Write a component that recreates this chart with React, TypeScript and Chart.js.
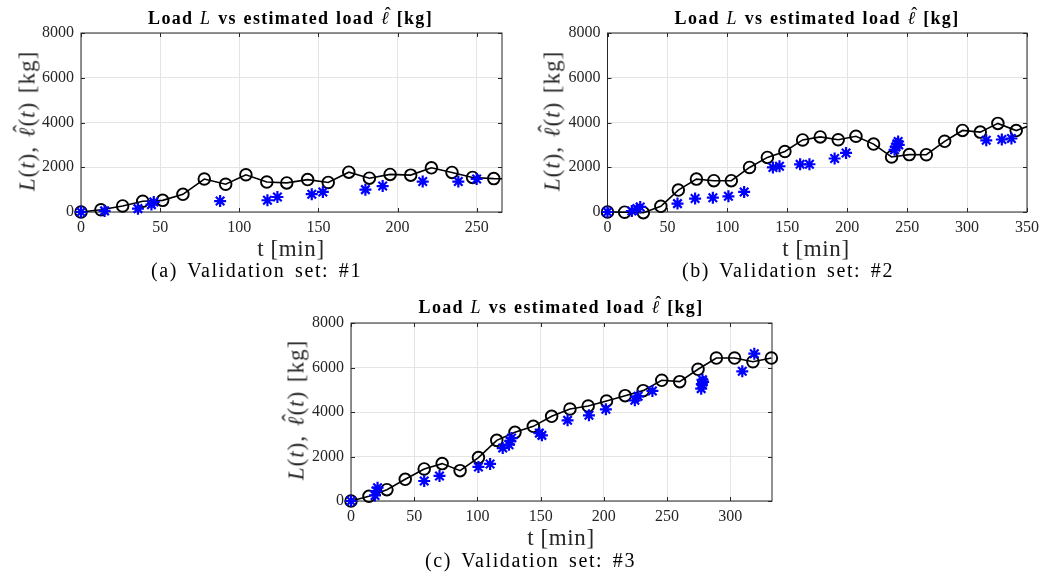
import React, { useEffect, useRef } from "react";
import { Chart, registerables } from "chart.js";

Chart.register(...registerables);

// ---------- Data ----------
const yTicks = [0, 2000, 4000, 6000, 8000];
const xTicksA = [0, 50, 100, 150, 200, 250];
const xTicksB = [0, 50, 100, 150, 200, 250, 300, 350];
const xTicksC = [0, 50, 100, 150, 200, 250, 300];

// (a) Validation set #1
const tLoadA = [0, 12.6, 26.3, 39, 51.6, 64.4, 77.9, 91.4, 104.2, 117.4, 130, 143.2, 156.2, 169.2, 182.2, 195.3, 208.3, 221.4, 234.4, 247.4, 260.8, 274];
const loadA = [0, 100, 270, 480, 520, 790, 1475, 1240, 1665, 1340, 1300, 1448, 1320, 1780, 1512, 1680, 1648, 1975, 1768, 1545, 1492, 1480];
const tEstA = [0, 14.9, 36, 44.5, 46, 87.9, 117.8, 124.1, 145.8, 152.8, 179.7, 190.6, 215.9, 238.4, 250];
const estA = [0, 50, 150, 330, 450, 490, 525, 670, 795, 895, 1000, 1160, 1360, 1360, 1475];

// (b) Validation set #2
const tLoadB = [0, 14.3, 29.9, 44.5, 59.1, 74.2, 88.7, 103.3, 118.5, 133.4, 148, 162.8, 177.5, 192.5, 207.3, 222, 237, 251.8, 266, 281.3, 296.2, 311, 325.7, 341, 356];
const loadB = [0, -10, -30, 255, 980, 1470, 1400, 1400, 1990, 2440, 2705, 3220, 3355, 3230, 3385, 3035, 2460, 2565, 2560, 3160, 3645, 3570, 3960, 3640, 3930];
const tEstB = [0, 20.3, 24.5, 27.3, 58.4, 73.1, 87.9, 100.9, 114, 138, 143.5, 160.7, 168.5, 189.5, 199, 239.5, 240.5, 241.5, 242.5, 243, 316, 329, 337];
const estB = [0, 45, 150, 225, 375, 600, 640, 700, 895, 1990, 2045, 2130, 2135, 2390, 2640, 2780, 2900, 3050, 3150, 3000, 3205, 3240, 3285];

// (c) Validation set #3
const tLoadC = [0, 14.2, 28.4, 42.9, 57.9, 72.1, 86.3, 100.8, 115.3, 129.7, 144.2, 158.7, 173.2, 187.6, 202.1, 216.8, 231.1, 245.8, 260, 274.5, 289, 303.4, 317.9, 332.5];
const loadC = [0, 210, 510, 975, 1440, 1680, 1365, 1950, 2725, 3085, 3355, 3805, 4135, 4270, 4495, 4735, 4960, 5425, 5365, 5920, 6425, 6425, 6260, 6425];
const tEstC = [0, 19, 20, 21, 57.9, 70, 100.8, 110, 120, 125, 126, 127, 149, 151, 171.3, 188.2, 201.6, 224.5, 227.1, 238.4, 277, 277.5, 278, 278.5, 309.5, 319];
const estC = [0, 250, 450, 600, 900, 1125, 1530, 1665, 2380, 2530, 2700, 2830, 3050, 2950, 3625, 3850, 4120, 4525, 4705, 4945, 5050, 5250, 5450, 5350, 5830, 6620];

const FONT = "'Liberation Serif', 'Times New Roman', serif";
const AXIS_COLOR = "#262626";

const boxPlugin = {
  id: "matlabBox",
  beforeDatasetsDraw(chart: any) {
    const { ctx, chartArea: a, scales } = chart;
    const x = scales.x;
    const y = scales.y;
    ctx.save();
    ctx.strokeStyle = AXIS_COLOR;
    ctx.lineWidth = 1;
    ctx.strokeRect(a.left, a.top, a.right - a.left, a.bottom - a.top);
    ctx.beginPath();
    const len = 4;
    x.ticks.forEach((t: any) => {
      const px = Math.round(x.getPixelForValue(t.value)) + 0.5;
      ctx.moveTo(px, a.bottom);
      ctx.lineTo(px, a.bottom - len);
      ctx.moveTo(px, a.top);
      ctx.lineTo(px, a.top + len);
    });
    y.ticks.forEach((t: any) => {
      const py = Math.round(y.getPixelForValue(t.value)) + 0.5;
      ctx.moveTo(a.left, py);
      ctx.lineTo(a.left + len, py);
      ctx.moveTo(a.right, py);
      ctx.lineTo(a.right - len, py);
    });
    ctx.stroke();
    ctx.restore();
  },
};

type Spec = {
  canvas: { left: number; top: number; width: number; height: number };
  area: { left: number; top: number; right: number; bottom: number };
  xMax: number;
  xTicks: number[];
  tLoad: number[];
  load: number[];
  tEst: number[];
  est: number[];
  clipRight: boolean;
};

function SubChart({ spec }: { spec: Spec }) {
  const ref = useRef<HTMLCanvasElement>(null);
  useEffect(() => {
    const c = spec.canvas;
    const a = spec.area;
    const yWidth = a.left - c.left;
    const padTop = a.top - c.top;
    const padRight = c.left + c.width - a.right;
    const xHeight = c.top + c.height - a.bottom;
    const lineClip = spec.clipRight
      ? { left: 20, top: 20, right: 0, bottom: 20 }
      : false;
    const chart = new Chart(ref.current as HTMLCanvasElement, {
      type: "scatter",
      data: {
        datasets: [
          {
            label: "estimated",
            data: spec.tEst.map((t, i) => ({ x: t, y: spec.est[i] })),
            pointStyle: "star",
            pointRadius: 6,
            pointBorderWidth: 2.2,
            borderColor: "#0000ff",
            backgroundColor: "#0000ff",
            showLine: false,
            order: 0,
            clip: false as any,
          },
          {
            label: "load",
            data: spec.tLoad.map((t, i) => ({ x: t, y: spec.load[i] })),
            pointStyle: "circle",
            pointRadius: 5.8,
            pointBorderWidth: 1.9,
            pointBorderColor: "#000000",
            pointBackgroundColor: "rgba(0,0,0,0)",
            borderColor: "#000000",
            borderWidth: 1.6,
            showLine: true,
            order: 1,
            clip: lineClip as any,
          },
        ],
      },
      options: {
        animation: false,
        responsive: false,
        devicePixelRatio: 1,
        layout: { padding: { left: 0, top: padTop, right: padRight, bottom: 0 } },
        plugins: {
          legend: { display: false },
          tooltip: { enabled: false },
          title: { display: false },
        },
        scales: {
          x: {
            type: "linear",
            min: 0,
            max: spec.xMax,
            afterBuildTicks: (s: any) => {
              s.ticks = spec.xTicks.map((v) => ({ value: v }));
            },
            afterFit: (s: any) => {
              s.height = xHeight;
            },
            grid: { color: "#e4e4e4", lineWidth: 1, drawTicks: false },
            border: { display: false },
            ticks: {
              color: AXIS_COLOR,
              font: { family: FONT, size: 16 },
              padding: 6,
              maxRotation: 0,
              autoSkip: false,
              callback: (v: any) => String(v),
            },
          },
          y: {
            type: "linear",
            min: 0,
            max: 8000,
            afterBuildTicks: (s: any) => {
              s.ticks = yTicks.map((v) => ({ value: v }));
            },
            afterFit: (s: any) => {
              s.width = yWidth;
            },
            grid: { color: "#e4e4e4", lineWidth: 1, drawTicks: false },
            border: { display: false },
            ticks: {
              color: AXIS_COLOR,
              font: { family: FONT, size: 16 },
              padding: 7,
              autoSkip: false,
              callback: (v: any) => String(v),
            },
          },
        },
      },
      plugins: [boxPlugin],
    });
    return () => chart.destroy();
  }, [spec]);
  const c = spec.canvas;
  return (
    <canvas
      ref={ref}
      width={c.width}
      height={c.height}
      style={{
        position: "absolute",
        left: c.left,
        top: c.top,
        width: c.width,
        height: c.height,
      }}
    />
  );
}

const specA: Spec = {
  canvas: { left: 0, top: 0, width: 520, height: 250 },
  area: { left: 81, top: 33, right: 502, bottom: 212 },
  xMax: 266,
  xTicks: xTicksA,
  tLoad: tLoadA,
  load: loadA,
  tEst: tEstA,
  est: estA,
  clipRight: true,
};
const specB: Spec = {
  canvas: { left: 520, top: 0, width: 525, height: 250 },
  area: { left: 607.5, top: 33, right: 1027, bottom: 212 },
  xMax: 350,
  xTicks: xTicksB,
  tLoad: tLoadB,
  load: loadB,
  tEst: tEstB,
  est: estB,
  clipRight: true,
};
const specC: Spec = {
  canvas: { left: 270, top: 290, width: 520, height: 250 },
  area: { left: 351, top: 323, right: 772, bottom: 501 },
  xMax: 333,
  xTicks: xTicksC,
  tLoad: tLoadC,
  load: loadC,
  tEst: tEstC,
  est: estC,
  clipRight: false,
};

const textBase: React.CSSProperties = {
  position: "absolute",
  fontFamily: FONT,
  color: "#000",
  whiteSpace: "nowrap",
  lineHeight: 1,
  transform: "translate(-50%, -50%)",
};

function Ell() {
  return (
    <span style={{ position: "relative", display: "inline-block", fontStyle: "italic", fontWeight: "normal" }}>
      ℓ
      <span
        style={{
          position: "absolute",
          left: "0.2em",
          top: "-0.2em",
          fontStyle: "normal",
          fontWeight: "normal",
        }}
      >
        ˆ
      </span>
    </span>
  );
}

function Title({ x, y }: { x: number; y: number }) {
  return (
    <div
      style={{
        ...textBase,
        left: x,
        top: y,
        fontSize: 18,
        fontWeight: "bold",
        letterSpacing: 1.3,
        wordSpacing: 1,
      }}
    >
      Load <i style={{ fontWeight: "normal" }}>L</i> vs estimated load <Ell /> [kg]
    </div>
  );
}

function XLabel({ x, y }: { x: number; y: number }) {
  return (
    <div
      style={{ ...textBase, left: x, top: y, fontSize: 23, color: "#262626", letterSpacing: 0.6 }}
    >
      t [min]
    </div>
  );
}

function YLabel({ x, y }: { x: number; y: number }) {
  return (
    <div
      style={{
        ...textBase,
        left: x,
        top: y,
        fontSize: 23,
        color: "#262626",
        letterSpacing: 1,
        wordSpacing: 2,
        transform: "translate(-50%, -50%) rotate(-90deg)",
      }}
    >
      <i>L</i>(<i>t</i>), <Ell />(<i>t</i>) [kg]
    </div>
  );
}

function Caption({ x, y, text }: { x: number; y: number; text: string }) {
  return (
    <div
      style={{
        ...textBase,
        left: x,
        top: y,
        fontSize: 20,
        letterSpacing: 1.6,
        wordSpacing: 3,
      }}
    >
      {text}
    </div>
  );
}

export default function App() {
  return (
    <div
      style={{
        position: "absolute",
        left: 0,
        top: 0,
        width: 1045,
        height: 574,
        background: "#fff",
        overflow: "hidden",
      }}
    >
      <SubChart spec={specA} />
      <SubChart spec={specB} />
      <SubChart spec={specC} />
      <Title x={290.5} y={18} />
      <Title x={817} y={18} />
      <Title x={561} y={307} />
      <XLabel x={291} y={248} />
      <XLabel x={816} y={248} />
      <XLabel x={561} y={537} />
      <YLabel x={27} y={121} />
      <YLabel x={552} y={121} />
      <YLabel x={296} y={410} />
      <Caption x={256.5} y={270} text="(a)  Validation set: #1" />
      <Caption x={788} y={270} text="(b)  Validation set: #2" />
      <Caption x={530.5} y={560} text="(c)  Validation set: #3" />
    </div>
  );
}
